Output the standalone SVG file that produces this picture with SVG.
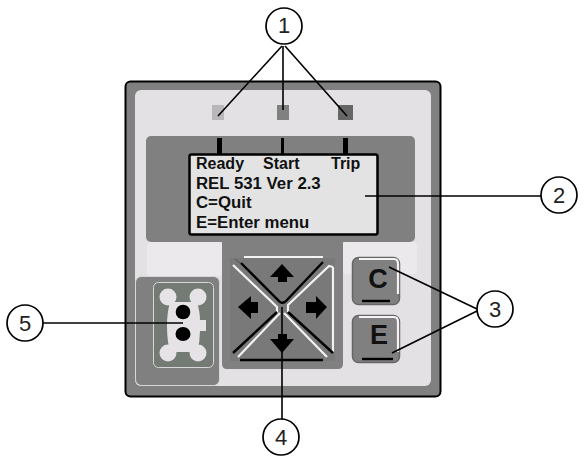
<svg xmlns="http://www.w3.org/2000/svg" width="588" height="471" viewBox="0 0 588 471">
<style>
.t{font-family:"Liberation Sans",Arial,sans-serif;font-weight:bold;font-size:16px;fill:#111}
.u{font-family:"Liberation Sans",Arial,sans-serif;font-weight:bold;font-size:16.800px;fill:#111}
.k{font-family:"Liberation Sans",Arial,sans-serif;font-weight:bold;font-size:27px;fill:#111;text-anchor:middle}
.n{font-family:"Liberation Sans",Arial,sans-serif;font-size:22px;fill:#222;text-anchor:middle}
.c{fill:#fff;stroke:#000;stroke-width:1.7}
.l{stroke:#000;stroke-width:1.6;fill:none}
.w{stroke:#f4f2f4;stroke-width:2.200;fill:none}
.b{stroke:#000;stroke-width:2.400;fill:none}
.g{stroke:#666;stroke-width:2;fill:none}
.a{fill:#000}
.d{fill:#e6e3e6}
</style>
<rect width="588" height="471" fill="#fff"/>
<g id="device">
<rect x="125.500" y="81.500" width="315" height="315" rx="5" fill="#808080" stroke="#000" stroke-width="2"/>
<rect x="135" y="90" width="296" height="296" rx="6" fill="#e4e1e4"/>
<rect x="146" y="136" width="269" height="106" rx="5" fill="#808080"/>
<rect x="147" y="242" width="75" height="34" rx="4" fill="#ebe9eb"/>
<rect x="343" y="242" width="74" height="32" rx="4" fill="#ebe9eb"/>
</g>
<g id="leds">
<rect x="212" y="105" width="12" height="15" fill="#b9b7b9"/>
<rect x="277" y="105" width="12" height="15" fill="#808080"/>
<rect x="338" y="105" width="15" height="15" fill="#666"/>
<rect x="217" y="138" width="5" height="16" fill="#000"/>
<rect x="281" y="138" width="3" height="16" fill="#000"/>
<rect x="343" y="138" width="5" height="16" fill="#000"/>
</g>
<g id="display">
<rect x="189.500" y="154.500" width="188" height="80" rx="2" fill="#e3e3e3" stroke="#000" stroke-width="2.500"/>
<text class="t" x="196" y="169">Ready</text>
<text class="t" x="263" y="169">Start</text>
<text class="t" x="331" y="169">Trip</text>
<text class="u" x="196" y="189">REL 531 Ver 2.3</text>
<text class="u" x="196" y="208">C=Quit</text>
<text class="u" x="196" y="228">E=Enter menu</text>
</g>
<g id="connector">
<rect x="135.500" y="276.500" width="84" height="109" rx="6" fill="#808080" stroke="#d8d6d8"/>
<rect x="153.500" y="282.500" width="60" height="85" rx="5" fill="#747a74" stroke="#d8d6d8"/>
<path class="d" d="M170 302H197Q200 312 200 320H206V331H200Q200 342 197 352H170Q167 340 167 326Q167 313 170 302Z"/>
<circle class="d" cx="168" cy="297" r="8.500"/><circle class="d" cx="198" cy="297" r="8.500"/>
<circle class="d" cx="168" cy="353" r="8.500"/><circle class="d" cx="198" cy="353" r="8.500"/>
<circle cx="183" cy="312" r="7.300" fill="#000"/>
<ellipse cx="183" cy="334" rx="7.500" ry="7" fill="#000"/>
</g>
<g id="navpad">
<path d="M222 240H343V364Q343 369 338 369H227Q222 369 222 364Z" fill="#808080"/>
<rect x="230" y="258" width="105" height="103" fill="#797979"/>
<path class="w" d="M244 257H323"/>
<path class="b" d="M240 360H323"/>
<path class="g" d="M235 259L240 263"/>
<path class="b" d="M241 263L280 302Q283 304 286 301L323 262"/>
<path class="w" d="M233 265L277 307V313"/>
<path class="w" d="M333 267L329 266L288 305V312"/>
<path class="w" d="M333 267V352"/>
<path class="b" d="M233 353L277 312"/>
<path class="w" d="M238 357L280 313"/>
<path class="w" d="M284 313L327 357"/>
<path class="b" d="M288 312L333 353"/>
<path class="a" d="M282 264L294 277H287V282H278V277H270Z"/>
<path class="a" d="M282 353L270 339H278V334H287V339H294Z"/>
<path class="a" d="M238 307L251 296V302H258V313H251V319Z"/>
<path class="a" d="M327 307L316 319V313H306V302H316V296Z"/>
</g>
<g id="button-c">
<rect x="352.500" y="257.500" width="47" height="47" rx="6" fill="#808080" stroke="#666" stroke-width="1.500"/>
<path class="w" d="M359 259H394Q398 259 398 264V294"/>
<path class="b" d="M362 301H390" stroke-width="3"/>
<text class="k" x="378" y="288">C</text>
</g>
<g id="button-e">
<rect x="352.500" y="315.500" width="47" height="47" rx="6" fill="#808080" stroke="#666" stroke-width="1.500"/>
<path class="w" d="M359 317H394Q398 317 398 322V352"/>
<path class="b" d="M362 359H393"/>
<text class="k" x="379" y="344">E</text>
</g>
<g id="connectors">
<path class="l" d="M282 46L218 116"/>
<path class="l" d="M283 46V110"/>
<path class="l" d="M285 46L347 116"/>
<path class="l" d="M365 196H541"/>
<path class="l" d="M389 267L477 309"/>
<path class="l" d="M477 311L392 353"/>
<path class="l" d="M282 307V419"/>
<path class="l" d="M43 323H183"/>
</g>
<g id="callout-1"><circle class="c" cx="284" cy="26" r="18"/><text class="n" x="284" y="33">1</text></g>
<g id="callout-2"><circle class="c" cx="559" cy="195" r="18"/><text class="n" x="559" y="203">2</text></g>
<g id="callout-3"><circle class="c" cx="495" cy="309" r="18"/><text class="n" x="495" y="317">3</text></g>
<g id="callout-4"><circle class="c" cx="281" cy="437" r="18"/><text class="n" x="281" y="445">4</text></g>
<g id="callout-5"><circle class="c" cx="25" cy="323" r="18"/><text class="n" x="25" y="331">5</text></g>
</svg>
